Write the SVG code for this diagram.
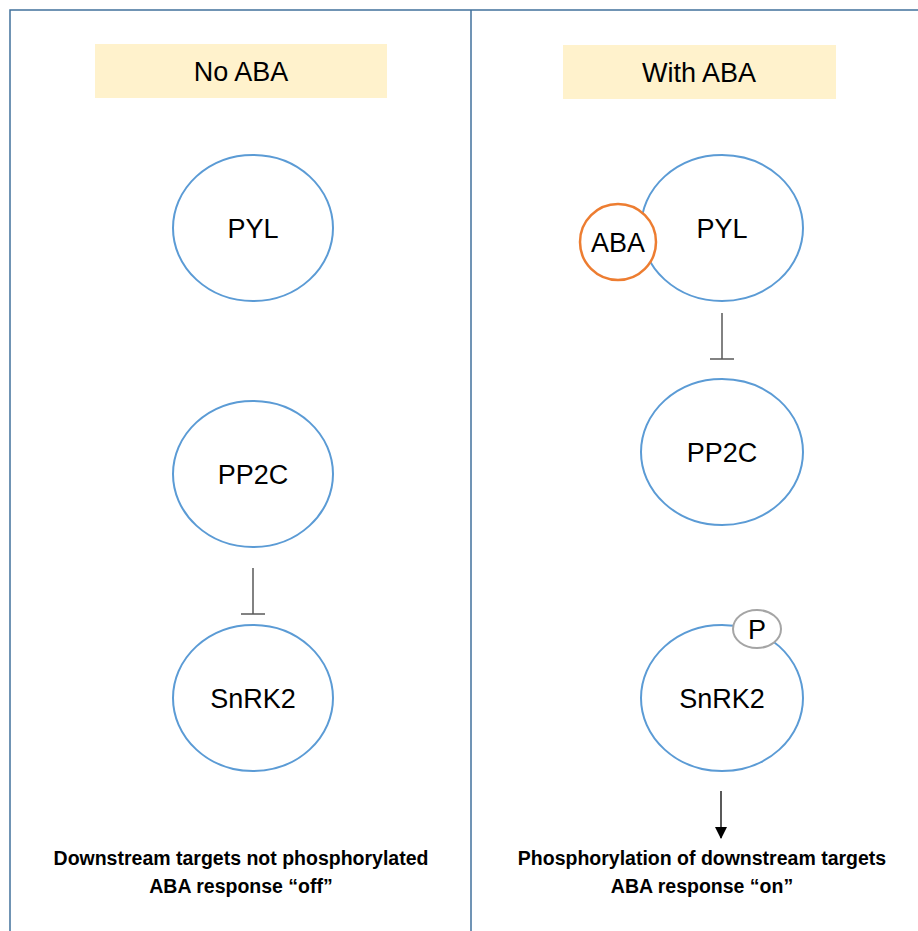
<svg xmlns="http://www.w3.org/2000/svg" width="918" height="931" viewBox="0 0 918 931">
<defs>
<style>
.frame{fill:none;stroke:#41719c;stroke-width:1.5}
.title{fill:#fff2cc}
.node{fill:#fff;stroke:#5b9bd5;stroke-width:2}
.aba{fill:#fff;stroke:#ed7d31;stroke-width:2.5}
.p{fill:#fff;stroke:#a5a5a5;stroke-width:2}
.lbl{font-family:"Liberation Sans",Arial,sans-serif;font-size:27px;fill:#000;text-anchor:middle}
.cap{font-family:"Liberation Sans",Arial,sans-serif;font-size:19.5px;font-weight:bold;fill:#000;text-anchor:middle}
.inh{stroke:#595959;stroke-width:1.5;fill:none}
.act{stroke:#000;stroke-width:1.3;fill:none}
</style>
<marker id="ah" viewBox="0 0 12 12" refX="11" refY="6" markerWidth="12" markerHeight="12" markerUnits="userSpaceOnUse" orient="auto">
<path d="M0,0 L12,6 L0,12 z" fill="#000"/>
</marker>
</defs>
<rect class="frame" x="10" y="10" width="920" height="940"/>
<line class="frame" x1="471" y1="10" x2="471" y2="931"/>
<g id="title-no">
<rect class="title" x="95" y="44" width="292" height="54"/>
<text class="lbl" x="241" y="81">No ABA</text>
</g>
<g id="title-with">
<rect class="title" x="563" y="45" width="273" height="54"/>
<text class="lbl" x="699" y="82">With ABA</text>
</g>
<g id="pyl-left">
<ellipse class="node" cx="253" cy="228" rx="80" ry="73"/>
<text class="lbl" x="253" y="238">PYL</text>
</g>
<g id="pp2c-left">
<ellipse class="node" cx="253" cy="474" rx="80" ry="73"/>
<text class="lbl" x="253" y="484">PP2C</text>
</g>
<g id="snrk2-left">
<ellipse class="node" cx="253" cy="698" rx="80" ry="73"/>
<text class="lbl" x="253" y="708">SnRK2</text>
</g>
<g id="pyl-right">
<ellipse class="node" cx="722" cy="228" rx="81" ry="73"/>
<text class="lbl" x="722" y="238">PYL</text>
</g>
<g id="aba">
<ellipse class="aba" cx="618" cy="242" rx="38" ry="38"/>
<text class="lbl" x="618" y="252">ABA</text>
</g>
<g id="pp2c-right">
<ellipse class="node" cx="722" cy="452" rx="81" ry="73"/>
<text class="lbl" x="722" y="462">PP2C</text>
</g>
<g id="snrk2-right">
<ellipse class="node" cx="722" cy="698" rx="81" ry="73"/>
<text class="lbl" x="722" y="708">SnRK2</text>
</g>
<g id="p">
<ellipse class="p" cx="757" cy="629" rx="24" ry="19"/>
<text class="lbl" x="757" y="639">P</text>
</g>
<g id="connectors">
<path class="inh" d="M253,568 V614 M241,614 H265"/>
<path class="inh" d="M722,313 V359 M710,359 H734"/>
<path class="act" d="M721,791 V838" marker-end="url(#ah)"/>
</g>
<g id="caption-left">
<text class="cap" x="241" y="865">Downstream targets not phosphorylated</text>
<text class="cap" x="241" y="893">ABA response “off”</text>
</g>
<g id="caption-right">
<text class="cap" x="702" y="865">Phosphorylation of downstream targets</text>
<text class="cap" x="702" y="893">ABA response “on”</text>
</g>
</svg>
